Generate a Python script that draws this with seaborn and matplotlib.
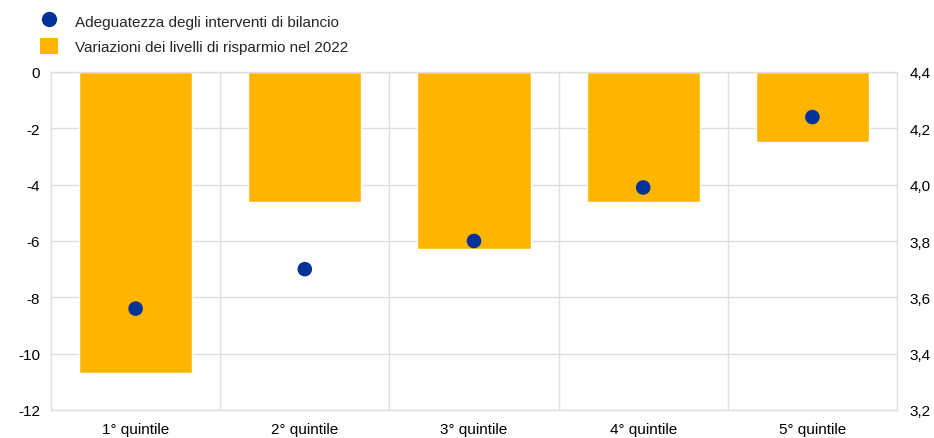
import numpy as np
import pandas as pd
import matplotlib
matplotlib.use("Agg")
import matplotlib.pyplot as plt
from matplotlib.lines import Line2D
from matplotlib.patches import Patch
import seaborn as sns

categories = ["1° quintile", "2° quintile", "3° quintile", "4° quintile", "5° quintile"]
savings_change = [-10.7, -4.6, -6.3, -4.6, -2.5]
adequacy = [3.56, 3.70, 3.80, 3.99, 4.24]

orange = "#FFB400"
blue = "#003299"
grid_col = "#dedede"

sns.set_theme(style="white")
plt.rcParams["font.family"] = ["Liberation Sans", "DejaVu Sans"]

df = pd.DataFrame({"cat": categories, "sav": savings_change, "adq": adequacy})

fig = plt.figure(figsize=(9.34, 4.39), dpi=100)
ax = fig.add_axes([51 / 934, 1 - 411 / 439, 846 / 934, 338 / 439])

sns.barplot(data=df, x="cat", y="sav", color=orange, width=0.67, saturation=1, ax=ax, zorder=2)
ax.set_ylim(-12, 0)
ax.set_yticks(np.arange(-12, 1, 2))
ax.set_yticklabels([str(v) for v in range(-12, 1, 2)])
ax.set_xlim(-0.5, len(categories) - 0.5)
ax.set_xticks(np.arange(0.5, len(categories) - 0.5, 1), minor=True)
ax.grid(True, which="minor", axis="x", color=grid_col, lw=1, zorder=0)
ax.grid(True, which="major", axis="y", color=grid_col, lw=1, zorder=0)
ax.set_xlabel("")
ax.set_ylabel("")
ax.tick_params(axis="both", which="both", length=0, labelsize=11, colors="#000000")
ax.tick_params(axis="x", pad=9)
ax.tick_params(axis="y", pad=8)
for s in ax.spines.values():
    s.set_color(grid_col)
    s.set_linewidth(1)
ax.set_axisbelow(True)

ax2 = ax.twinx()
sns.scatterplot(x=np.arange(len(categories)), y=adequacy, color=blue, s=110, edgecolor="none", ax=ax2, zorder=3)
ax2.set_ylim(3.2, 4.4)
ax2.set_yticks(np.round(np.arange(3.2, 4.41, 0.2), 1))
ax2.set_yticklabels([f"{v:.1f}".replace(".", ",") for v in np.arange(3.2, 4.41, 0.2)])
ax2.tick_params(axis="y", length=0, labelsize=11, pad=9, colors="#000000")
for s in ax2.spines.values():
    s.set_visible(False)

handles = [
    Line2D([0], [0], marker="o", color="none", markerfacecolor=blue, markeredgecolor="none", markersize=11),
    Patch(facecolor=orange, edgecolor="none"),
]
labels = ["Adeguatezza degli interventi di bilancio", "Variazioni dei livelli di risparmio nel 2022"]
fig.legend(handles, labels, loc="upper left", bbox_to_anchor=(40 / 934, 1 - 14 / 439), frameon=False,
           fontsize=11, handlelength=1.2, handleheight=1.2, handletextpad=1.1, labelspacing=0.6,
           borderpad=0, borderaxespad=0)

fig.savefig("out.png", dpi=100)
